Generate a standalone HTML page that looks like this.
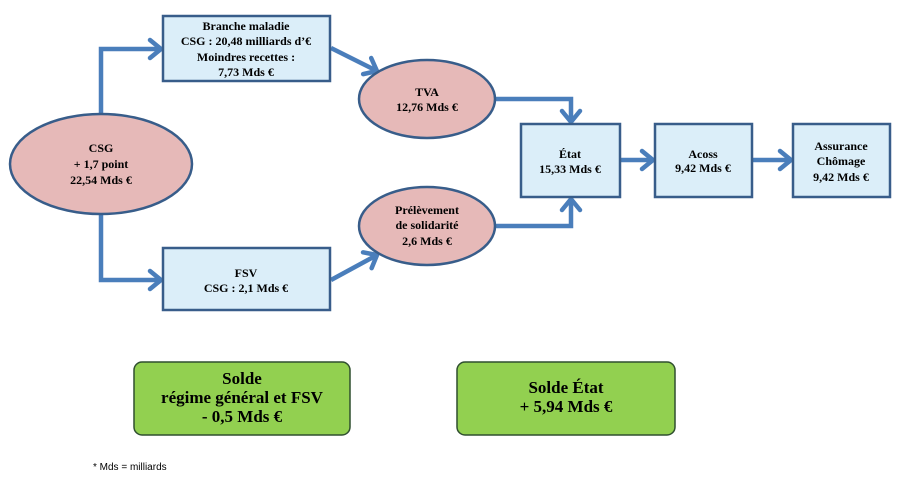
<!DOCTYPE html>
<html><head><meta charset="utf-8"><style>
body{margin:0;background:#fff;width:900px;height:483px;overflow:hidden;position:relative;font-family:"Liberation Serif",serif;}
svg{position:absolute;left:0;top:0}
.t{font-weight:bold;font-size:12px;fill:#000;text-anchor:middle}
.b{font-weight:bold;font-size:17px;fill:#000;text-anchor:middle}
</style></head><body>
<svg width="900" height="483" viewBox="0 0 900 483">
<defs><marker id="a" markerWidth="18" markerHeight="24" refX="14" refY="12" orient="auto" markerUnits="userSpaceOnUse"><path d="M3,3 L14,12 L3,21" fill="none" stroke="#4a7ebb" stroke-width="4.5" stroke-linecap="round" stroke-linejoin="round"/></marker></defs>
<g fill="none" stroke="#4a7ebb" stroke-width="4.5" marker-end="url(#a)">
<path d="M101,113 V49 H161"/>
<path d="M101,215 V280 H161"/>
<path d="M331,48 L377,71"/>
<path d="M331,280 L377,255"/>
<path d="M496,99 H571 V122"/>
<path d="M496,226 H571 V199"/>
<path d="M621,160 H653"/>
<path d="M753,160 H791"/>
</g>
<g stroke="#385d8a" stroke-width="2.5">
<rect x="163" y="16" width="167" height="65" fill="#dbeef9"/>
<rect x="163" y="248" width="167" height="62" fill="#dbeef9"/>
<rect x="521" y="124" width="99" height="73" fill="#dbeef9"/>
<rect x="655" y="124" width="97" height="73" fill="#dbeef9"/>
<rect x="793" y="124" width="97" height="73" fill="#dbeef9"/>
<ellipse cx="101" cy="164" rx="91" ry="50" fill="#e6b9b8"/>
<ellipse cx="427" cy="99" rx="68" ry="39" fill="#e6b9b8"/>
<ellipse cx="427" cy="226" rx="68" ry="39" fill="#e6b9b8"/>
</g>
<g stroke="#2f4f2f" stroke-width="1.5" fill="#92d050">
<rect x="134" y="362" width="216" height="73" rx="8"/>
<rect x="457" y="362" width="218" height="73" rx="8"/>
</g>
<text class="t" x="246" y="30">Branche maladie</text>
<text class="t" x="246" y="45">CSG : 20,48 milliards d’€</text>
<text class="t" x="246" y="61">Moindres recettes :</text>
<text class="t" x="246" y="76">7,73 Mds €</text>
<text class="t" x="101" y="152">CSG</text>
<text class="t" x="101" y="168">+ 1,7 point</text>
<text class="t" x="101" y="184">22,54 Mds €</text>
<text class="t" x="427" y="96">TVA</text>
<text class="t" x="427" y="111">12,76 Mds €</text>
<text class="t" x="427" y="214">Prélèvement</text>
<text class="t" x="427" y="229">de solidarité</text>
<text class="t" x="427" y="245">2,6 Mds €</text>
<text class="t" x="246" y="277">FSV</text>
<text class="t" x="246" y="292">CSG : 2,1 Mds €</text>
<text class="t" x="570" y="158">État</text>
<text class="t" x="570" y="173">15,33 Mds €</text>
<text class="t" x="703" y="158">Acoss</text>
<text class="t" x="703" y="172">9,42 Mds €</text>
<text class="t" x="841" y="150">Assurance</text>
<text class="t" x="841" y="165">Chômage</text>
<text class="t" x="841" y="181">9,42 Mds €</text>
<text class="b" x="242" y="384">Solde</text>
<text class="b" x="242" y="403">régime général et FSV</text>
<text class="b" x="242" y="422">- 0,5 Mds €</text>
<text class="b" x="566" y="393">Solde État</text>
<text class="b" x="566" y="412">+ 5,94 Mds €</text>
<text x="93" y="470" style="font-family:'Liberation Sans',sans-serif;font-size:10px">* Mds = milliards</text>
</svg>
</body></html>
